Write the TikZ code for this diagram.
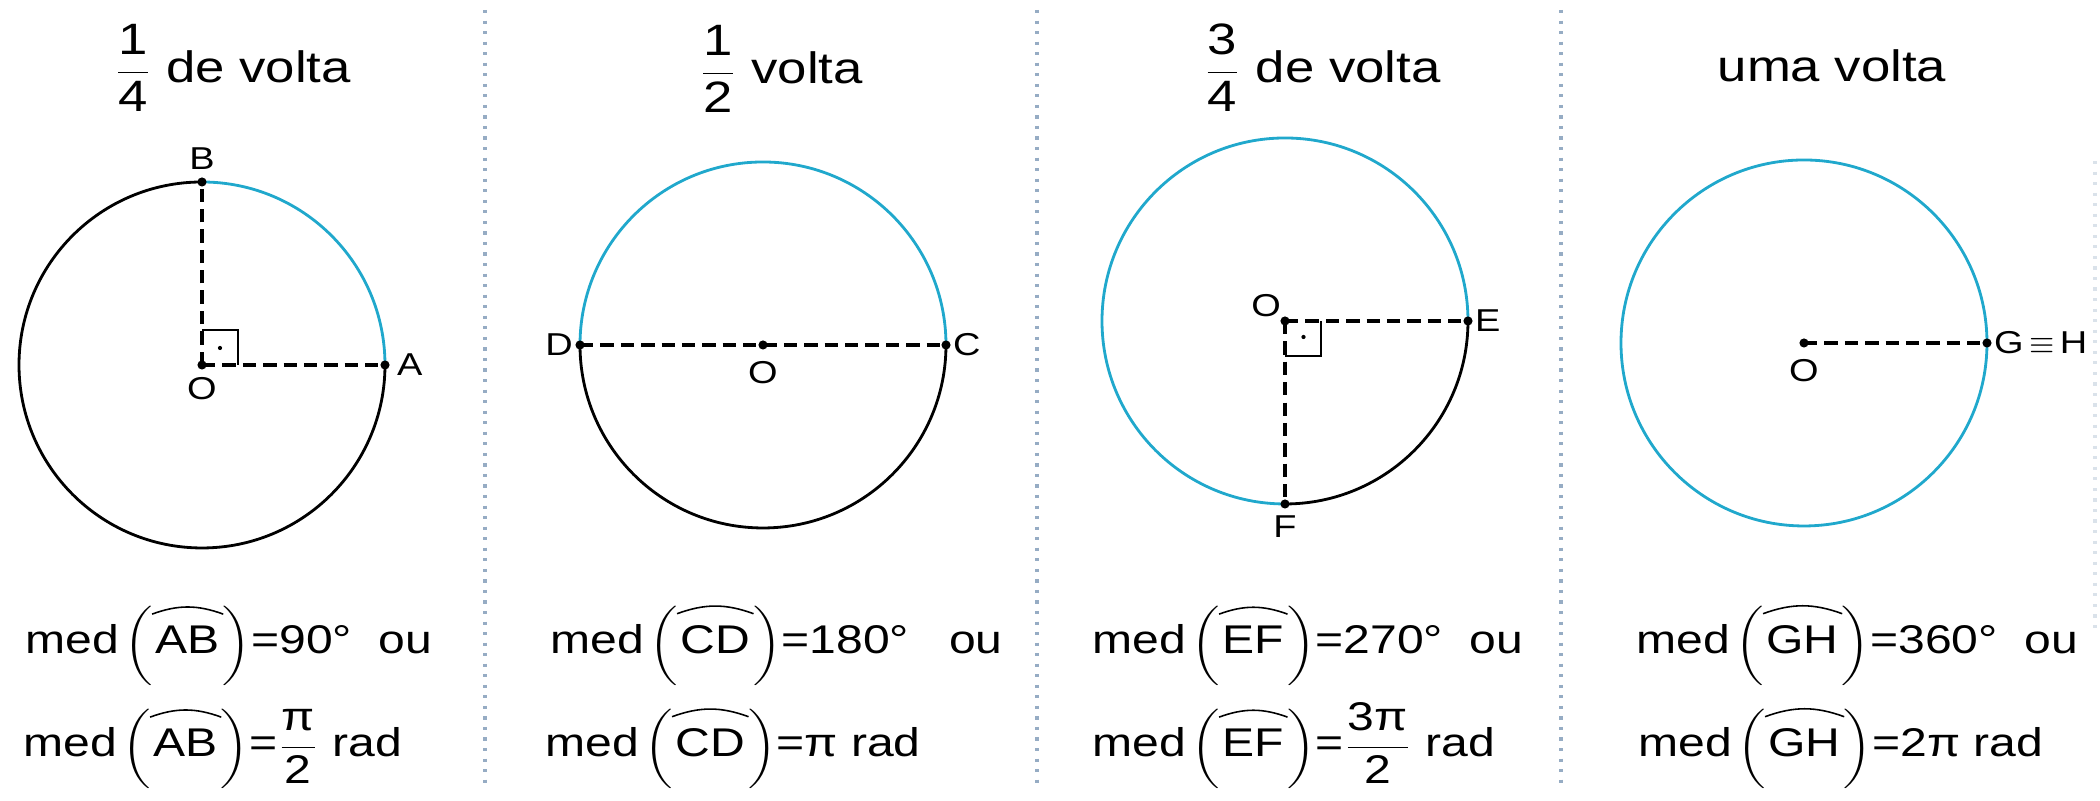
\documentclass[tikz,border=0pt]{standalone}
\usepackage{amsmath}
\usepackage{graphicx}
\usepackage{fontspec}
\setmainfont[FakeStretch=1.2]{Liberation Sans}
\usetikzlibrary{positioning}

\definecolor{arcoazul}{RGB}{32,168,204}
\definecolor{cordivisa}{RGB}{150,172,196}

% arc sign over the name of an arc
\newcommand{\arco}[1]{\tikz[baseline=(arcotxt.base)]{%
  \node[inner sep=0pt,outer sep=0pt,anchor=base] (arcotxt) {#1};
  \draw[overlay,line width=0.45pt] ([shift={(-1pt,3.5pt)}]arcotxt.north west)
    to[bend left=20] ([shift={(1pt,3.5pt)}]arcotxt.north east);}}
\newcommand{\pe}{\scalebox{1}[0.86]{$\bigg($}}
\newcommand{\pd}{\scalebox{1}[0.86]{$\bigg)$}}
\newcommand{\med}[1]{med\hspace{0.12em}\pe\hspace{0.08em}\arco{#1}\hspace{0.08em}\pd}

\begin{document}
\begin{tikzpicture}[
  circ/.style={line width=0.8pt},
  raio/.style={line width=0.9pt,dash pattern=on 3.8pt off 2pt},
  reto/.style={line width=0.55pt},
  rotulo/.style={font=\fontsize{9}{10}\selectfont,inner sep=1pt},
  titulo/.style={font=\fontsize{12.5}{14}\selectfont,anchor=base,inner sep=0pt},
  formula/.style={font=\fontsize{11.4}{13}\selectfont,anchor=base west,inner sep=0pt},
  divisa/.style={cordivisa,line width=0.9pt,dash pattern=on 0.9pt off 2.1pt},
]
\useasboundingbox (0,0) rectangle (21,8.01);

% Dividers
\draw[divisa] (4.85,7.91) -- (4.85,0.13);
\draw[divisa] (10.37,7.91) -- (10.37,0.13);
\draw[divisa] (15.61,7.91) -- (15.61,0.13);
\draw[divisa,opacity=0.35] (20.95,6.4) -- (20.95,1.7);

% Panel 1: quarter turn
\node[titulo] (t1) at (2.325,7.18) {$\dfrac{\text{1}}{\text{4}}$ de volta};
\coordinate (O1) at (2.02,4.36);
\coordinate (A) at (3.85,4.36);
\coordinate (B) at (2.02,6.19);
\draw[circ,arcoazul] (A) arc[start angle=0,end angle=90,radius=1.83];
\draw[circ] (B) arc[start angle=90,end angle=360,radius=1.83];
\draw[raio] (O1) -- (B);
\draw[raio] (O1) -- (A);
\draw[reto] ([yshift=0.35cm]O1) -| ([xshift=0.36cm]O1);
\fill ([shift={(0.18,0.17)}]O1) circle (0.6pt);
\foreach \p in {O1,A,B} \fill (\p) circle (1.3pt);
\node[rotulo,above=0.08cm of B] (lB) {B};
\node[rotulo,below=0.08cm of O1] (lO1) {O};
\node[rotulo,right=0.08cm of A] (lA) {A};
\node[formula] (f1a) at (0.25,1.47) {\med{AB}=90°~~ou};
\node[formula] (f1b) at (0.23,0.44) {\med{AB}=$\dfrac{\text{π}}{\text{2}}$ rad};

% Panel 2: half turn
\node[titulo] (t2) at (7.81,7.17) {$\dfrac{\text{1}}{\text{2}}$ volta};
\coordinate (O2) at (7.63,4.56);
\coordinate (C) at (9.46,4.56);
\coordinate (D) at (5.80,4.56);
\draw[circ,arcoazul] (C) arc[start angle=0,end angle=180,radius=1.83];
\draw[circ] (D) arc[start angle=180,end angle=360,radius=1.83];
\draw[raio] (D) -- (C);
\foreach \p in {O2,C,D} \fill (\p) circle (1.3pt);
\node[rotulo,left=0.03cm of D] (lD) {D};
\node[rotulo,right=0.03cm of C] (lC) {C};
\node[rotulo,below=0.12cm of O2] (lO2) {O};
\node[formula] (f2a) at (5.50,1.47) {\med{CD}=180°~~~ou};
\node[formula] (f2b) at (5.45,0.44) {\med{CD}=π rad};

% Panel 3: three quarters of a turn
\node[titulo] (t3) at (13.22,7.18) {$\dfrac{\text{3}}{\text{4}}$ de volta};
\coordinate (O3) at (12.85,4.80);
\coordinate (E) at (14.68,4.80);
\coordinate (F) at (12.85,2.97);
\draw[circ,arcoazul] (E) arc[start angle=0,end angle=270,radius=1.83];
\draw[circ] (F) arc[start angle=270,end angle=360,radius=1.83];
\draw[raio] (O3) -- (E);
\draw[raio] (O3) -- (F);
\draw[reto] ([yshift=-0.35cm]O3) -| ([xshift=0.36cm]O3);
\fill ([shift={(0.185,-0.16)}]O3) circle (0.6pt);
\foreach \p in {O3,E,F} \fill (\p) circle (1.3pt);
\node[rotulo,above left=0.0cm and 0.0cm of O3] (lO3) {O};
\node[rotulo,right=0.03cm of E] (lE) {E};
\node[rotulo,below=0.08cm of F] (lF) {F};
\node[formula] (f3a) at (10.92,1.47) {\med{EF}=270°~~ou};
\node[formula] (f3b) at (10.92,0.44) {\med{EF}=$\dfrac{\text{3π}}{\text{2}}$ rad};

% Panel 4: full turn
\node[titulo] (t4) at (18.32,7.19) {uma volta};
\coordinate (O4) at (18.04,4.58);
\coordinate (G) at (19.87,4.58);
\draw[circ,arcoazul] (O4) circle (1.83);
\draw[raio] (O4) -- (G);
\foreach \p in {O4,G} \fill (\p) circle (1.3pt);
\node[rotulo,below=0.12cm of O4] (lO4) {O};
\node[rotulo,right=0.03cm of G] (lG) {G$\,\equiv\,$H};
\node[formula] (f4a) at (16.36,1.47) {\med{GH}=360°~~ou};
\node[formula] (f4b) at (16.38,0.44) {\med{GH}=2π rad};

\end{tikzpicture}
\end{document}
